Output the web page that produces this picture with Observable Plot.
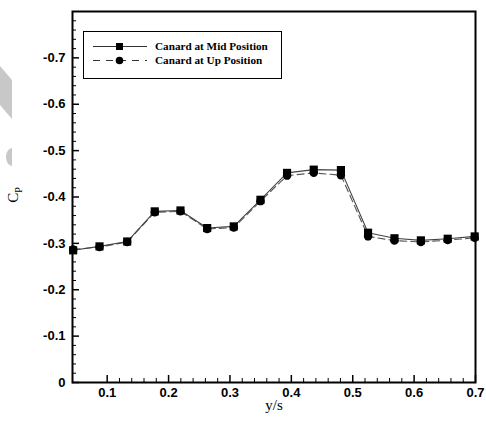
<!DOCTYPE html>
<html>
<head>
<meta charset="utf-8">
<script src="https://cdn.jsdelivr.net/npm/d3@7"></script>
<script src="https://cdn.jsdelivr.net/npm/@observablehq/plot@0.6"></script>
<style>
  html, body { margin: 0; padding: 0; background: #fff; }
  #wrap { position: relative; width: 486px; height: 421px; overflow: hidden; }
  #legend { position: absolute; left: 83px; top: 31px; width: 197px; height: 46px; border: 1.5px solid #000; background: #fff;
            font-family: "Liberation Serif", "Times New Roman", serif; font-weight: bold; font-size: 11.2px; }
  .row { position: absolute; left: 0; height: 14px; display: flex; align-items: center; }
  .row svg { margin-left: 9px; }
  .row span { margin-left: 8px; }
  #cp { position: absolute; left: 14px; top: 195px; transform: translate(-50%, -50%) rotate(-90deg);
        font-family: "Liberation Serif", "Times New Roman", serif; font-size: 15px; white-space: nowrap; }
  #cp sub { font-size: 10px; }
  #wm { position: absolute; left: 0; top: 0; }
</style>
</head>
<body>
<div id="wrap">
  <svg id="wm" width="40" height="200"><polygon points="0,66 12,80 12,119 0,105" fill="#c8c8c8"/><path d="M12,148 A6,9 0 0 0 12,166 Z" fill="#c8c8c8"/></svg>
  <div id="chart"></div>
  <div id="legend"></div>
  <div id="cp">C<sub>P</sub></div>
</div>
<script>
const ys = [0.0446, 0.0875, 0.1326, 0.1775, 0.2194, 0.2629, 0.3062, 0.3497, 0.393, 0.4365, 0.4808, 0.525, 0.568, 0.611, 0.6547, 0.6987];
const cpMid = [-0.285, -0.2935, -0.304, -0.369, -0.371, -0.333, -0.3366, -0.394, -0.452, -0.459, -0.458, -0.323, -0.311, -0.3065, -0.310, -0.315];
const cpUp  = [-0.287, -0.292, -0.303, -0.367, -0.369, -0.331, -0.334, -0.391, -0.446, -0.452, -0.447, -0.315, -0.306, -0.303, -0.307, -0.312];
const seriesNames = ["Canard at Mid Position", "Canard at Up Position"];
const xTicks = [0.1, 0.2, 0.3, 0.4, 0.5, 0.6, 0.7];
const yTicks = [0, -0.1, -0.2, -0.3, -0.4, -0.5, -0.6, -0.7];
const xMinor = d3.range(6, 36).map(i => i * 0.02).filter(v => v <= 0.7 && Math.abs(v * 10 - Math.round(v * 10)) > 1e-6);
const yMinor = d3.range(1, 40).map(i => -i * 0.02).filter(v => Math.abs(v * 10 - Math.round(v * 10)) > 1e-6);

const mid = ys.map((x, i) => ({x, cp: cpMid[i]}));
const up = ys.map((x, i) => ({x, cp: cpUp[i]}));

const W = 486, H = 421, mL = 72, mR = 11, mT = 11, mB = 39;
const pw = W - mL - mR, ph = H - mT - mB;
const fmt = d => d === 0 ? "0" : d.toFixed(1);

const chart = Plot.plot({
  width: W, height: H,
  marginLeft: mL, marginRight: mR, marginTop: mT, marginBottom: mB,
  style: {background: "#fff", color: "#000", fontFamily: "'Liberation Sans', Arial, sans-serif", fontSize: "13px", fontWeight: "bold"},
  x: {domain: [0.0435, 0.7]},
  y: {domain: [0, -0.8]},
  marks: [
    Plot.axisX(xTicks, {tickSize: 0, tickPadding: 5, tickFormat: fmt, label: null, fontWeight: "bold", fontSize: 13}),
    Plot.axisY(yTicks, {tickSize: 0, tickPadding: 7, tickFormat: fmt, label: null, fontWeight: "bold", fontSize: 13}),
    Plot.tickX(xTicks, {x: d => d, insetTop: ph - 7, stroke: "#000", strokeWidth: 1.5}),
    Plot.tickX(xMinor, {x: d => d, insetTop: ph - 4, stroke: "#000", strokeWidth: 1}),
    Plot.tickY(yTicks, {y: d => d, insetRight: pw - 7, stroke: "#000", strokeWidth: 1.5}),
    Plot.tickY(yMinor, {y: d => d, insetRight: pw - 4, stroke: "#000", strokeWidth: 1}),
    Plot.line(up, {x: "x", y: "cp", stroke: "#555", strokeWidth: 1.1, strokeDasharray: "7,4"}),
    Plot.line(mid, {x: "x", y: "cp", stroke: "#444", strokeWidth: 1.1}),
    Plot.dot(up, {x: "x", y: "cp", r: 4.2, fill: "#000", stroke: "none"}),
    Plot.dot(mid, {x: "x", y: "cp", symbol: "square", r: 4.6, fill: "#000", stroke: "none"}),
    Plot.frame({stroke: "#000", strokeWidth: 2}),
    Plot.text(["y/s"], {frameAnchor: "bottom", dy: 27, fontFamily: "'Liberation Serif', 'Times New Roman', serif", fontSize: 15, fontWeight: "normal", fill: "#000"})
  ]
});
document.getElementById("chart").appendChild(chart);

const leg = document.getElementById("legend");
seriesNames.forEach((name, i) => {
  const row = document.createElement("div");
  row.className = "row";
  row.style.top = (i === 0 ? 7 : 21) + "px";
  const marker = i === 0
    ? '<rect x="23" y="3" width="7" height="7" fill="#000"/>'
    : '<circle cx="26.5" cy="6.5" r="3.8" fill="#000"/>';
  const dash = i === 0 ? "" : ' stroke-dasharray="7,6"';
  row.innerHTML = '<svg width="54" height="13"><line x1="0" y1="6.5" x2="54" y2="6.5" stroke="#333" stroke-width="1.1"' + dash + '/>' + marker + '</svg><span>' + name + '</span>';
  leg.appendChild(row);
});
</script>
</body>
</html>
